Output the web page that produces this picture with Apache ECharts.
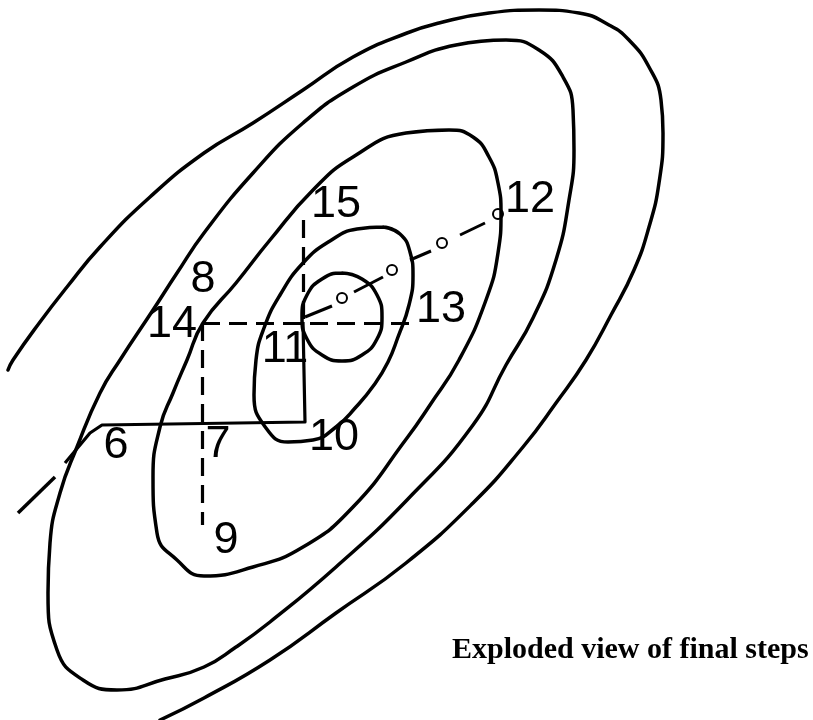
<!DOCTYPE html>
<html>
<head>
<meta charset="utf-8">
<script src="https://cdn.jsdelivr.net/npm/echarts@6/dist/echarts.min.js"></script>
<style>
  html, body { margin: 0; padding: 0; background: #fff; }
  #chart { width: 813px; height: 720px; }
</style>
</head>
<body>
<div id="chart"></div>
<script>
// Contour lines of the objective, outermost first (plot units, y grows downward)
const contourOuter = [[8,370],[13,360],[40,322],[67,287],[100,247],[150,197],[204,153],[253,123],[303,90],[353,57],[407,33],[439,23],[489,13],[539,10],[579,13],[609,25],[629,40],[649,67],[661,100],[663,133],[659,183],[649,227],[634,270],[611,315],[586,360],[556,403],[523,447],[473,503],[406,563],[336,613],[270,660],[204,698],[160,720]];
const contourSecond = [[506,40],[456,45],[406,62],[353,87],[303,123],[253,173],[204,233],[177,273],[153,310],[120,360],[100,393],[77,447],[60,493],[50,543],[48,593],[57,650],[83,680],[117,690],[165,679],[204,667],[236,647],[270,622],[336,567],[407,500],[473,425],[506,365],[533,318],[556,260],[569,200],[574,150],[573,110],[563,77],[539,50]];
const contourThird = [[406,133],[449,130],[473,137],[489,157],[498,183],[501,213],[498,253],[486,300],[459,360],[430,405],[407,438],[353,507],[303,547],[253,567],[204,576],[177,560],[157,533],[153,477],[160,427],[173,393],[187,360],[203,323],[236,283],[270,240],[313,190],[353,157]];
const contourFourth = [[383,227],[400,234],[410,252],[413,275],[409,305],[398,337],[388,362],[374,385],[356,407],[336,427],[313,440],[288,442],[266,428],[254,395],[256,360],[264,328],[280,295],[303,263],[330,241],[357,229]];
const contourInner = [[342,273],[362,279],[377,295],[382,317],[377,339],[362,355],[342,361],[322,355],[307,339],[302,317],[307,295],[322,279]];

// Search path: solid moves ending at point 11
const pathTail = [[18,513],[55,477]];
const pathSolid = [[65,463],[90,433],[102,425],[305,422],[303,322]];
// Dashed exploratory moves
const dashAcross = [[202,323],[410,323]];
const dashDown = [[202,323],[202,525]];
const dashUp = [[303,220],[303,322]];
// Pattern move from 11 towards 12, broken at the trial points
const patternSegments = [
  [[305,317],[332,306]],
  [[354,292],[383,277]],
  [[410,260],[431,251]],
  [[460,235],[485,223]]
];
const trialPoints = [[342,298],[392,270],[442,243],[498,214]];

// Numbered iterates
const stepNames = ['6','7','8','9','10','11','12','13','14','15'];
const stepX = [100, 202, 202, 202, 305, 303, 498, 410, 202, 303];
const stepY = [425, 424, 323, 525, 422, 322, 214, 323, 323, 220];

const captionText = 'Exploded view of final steps';

// label placement around each iterate
const labelOffset = {
  '6': [16, 21], '7': [16, 21], '8': [1, -43], '9': [24, 16], '10': [29, 16],
  '11': [-18, 28], '12': [32, -14], '13': [31, -13], '14': [-30, 2], '15': [33, -15]
};

const INK = '#000';
const close = pts => pts.concat([pts[0], pts[1]]);

function contour(pts) {
  return {
    type: 'line', data: pts, smooth: 0.5, showSymbol: false, symbol: 'none',
    clip: false, silent: true,
    lineStyle: { color: INK, width: 3.5, cap: 'round', join: 'round', opacity: 1 }
  };
}

function segments(list, dash, width) {
  return {
    type: 'lines', coordinateSystem: 'cartesian2d', silent: true, clip: false,
    data: list.map(c => ({ coords: c })),
    lineStyle: { color: INK, width: width || 3.2, type: dash || 'solid', cap: 'butt', opacity: 1, curveness: 0 }
  };
}

const chart = echarts.init(document.getElementById('chart'), null, { renderer: 'canvas' });

chart.setOption({
  animation: false,
  backgroundColor: '#fff',
  title: {
    text: captionText, left: 452, top: 635, padding: 0,
    textStyle: { fontFamily: 'Liberation Serif', fontWeight: 'bold', fontSize: 30, color: INK }
  },
  grid: { left: 0, right: 0, top: 0, bottom: 0 },
  xAxis: { type: 'value', min: 0, max: 813, show: false },
  yAxis: { type: 'value', min: 0, max: 720, inverse: true, show: false },
  series: [
    contour(contourOuter),
    contour(close(contourSecond)),
    contour(close(contourThird)),
    contour(close(contourFourth)),
    contour(close(contourInner)),
    {
      type: 'line', data: pathSolid, showSymbol: false, symbol: 'none', clip: false, silent: true,
      lineStyle: { color: INK, width: 3.2, join: 'round', opacity: 1 }
    },
    segments([pathTail], 'solid', 3.5),
    segments([dashAcross, dashDown, dashUp], [18, 9], 3.2),
    segments(patternSegments, 'solid', 3),
    {
      type: 'scatter', data: trialPoints, symbol: 'emptyCircle', symbolSize: 10, silent: true, clip: false,
      itemStyle: { color: INK, borderColor: INK, borderWidth: 2.8, opacity: 1 }
    },
    {
      type: 'scatter', symbolSize: 0, silent: true, clip: false,
      itemStyle: { opacity: 1 },
      data: stepNames.map((n, i) => ({
        name: n, value: [stepX[i], stepY[i]],
        label: { offset: labelOffset[n] }
      })),
      label: {
        show: true, position: 'inside', formatter: '{b}',
        fontFamily: 'Liberation Sans', fontSize: 45, color: INK, opacity: 1,
        textBorderWidth: 0, align: 'center', verticalAlign: 'middle'
      }
    }
  ]
});
</script>
</body>
</html>
